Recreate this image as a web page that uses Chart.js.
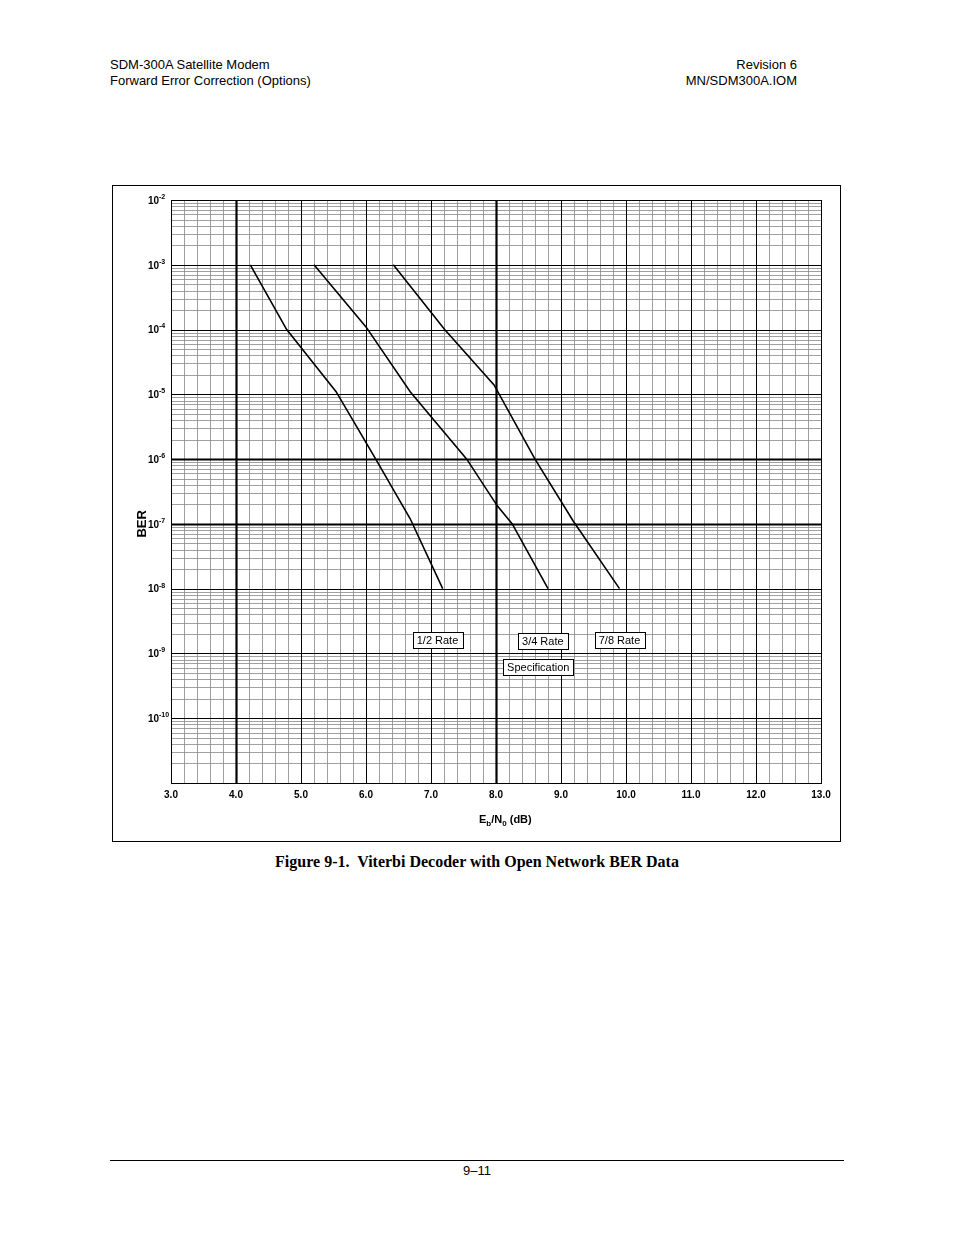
<!DOCTYPE html>
<html>
<head>
<meta charset="utf-8">
<script src="https://cdn.jsdelivr.net/npm/chart.js@4"></script>
<style>
  body { margin: 0; width: 954px; height: 1235px; position: relative; background: #fff; font-family: Arial, "Liberation Sans", sans-serif; }
  .hdr { position: absolute; font-size: 13px; line-height: 16px; color: #000; }
  #box { position: absolute; left: 112px; top: 185px; width: 729px; height: 657px; border: 1px solid #000; box-sizing: border-box; }
  #wrap { position: absolute; left: 112px; top: 185px; width: 729px; height: 657px; }
  .cap { position: absolute; top: 853px; left: 0; width: 954px; text-align: center; font-family: "Liberation Serif", "Times New Roman", serif; font-weight: bold; font-size: 16px; }
  .rule { position: absolute; left: 110px; width: 734px; top: 1160px; border-top: 1px solid #000; }
</style>
</head>
<body>
<div class="hdr" style="left:110px;top:57px">SDM-300A Satellite Modem<br>Forward Error Correction (Options)</div>
<div class="hdr" style="right:157px;top:57px;text-align:right">Revision 6<br>MN/SDM300A.IOM</div>
<div id="box"></div>
<div id="wrap"><canvas id="berChart"></canvas></div>
<div class="cap">Figure 9-1.&nbsp; Viterbi Decoder with Open Network BER Data</div>
<div class="rule"></div>
<div class="hdr" style="left:0;width:954px;text-align:center;top:1163px">9–11</div>
<script>
// Eb/N0 (dB) vs BER
const rateHalfX = [4.22, 4.78, 5.54, 6.15, 6.68, 7.18];
const rateHalfY = [1e-3, 1e-4, 1.1e-5, 1e-6, 1.2e-7, 1e-8];
const rate34X = [5.2, 6.0, 6.68, 7.55, 8.02, 8.25, 8.8];
const rate34Y = [1e-3, 1.1e-4, 1.1e-5, 1e-6, 1.9e-7, 1e-7, 1e-8];
const rate78X = [6.42, 7.21, 7.97, 8.6, 9.19, 9.9];
const rate78Y = [1e-3, 1e-4, 1.4e-5, 1e-6, 1.1e-7, 1e-8];
const xTicks = [3, 4, 5, 6, 7, 8, 9, 10, 11, 12, 13];
const yExponents = [-2, -3, -4, -5, -6, -7, -8, -9, -10];
const curveLabels = [
  { text: '1/2 Rate', x: 7.1, y: 1.6e-9 },
  { text: '3/4 Rate', x: 8.72, y: 1.55e-9 },
  { text: '7/8 Rate', x: 9.9, y: 1.6e-9 },
  { text: 'Specification', x: 8.65, y: 6.2e-10 }
];

const pts = (xs, ys) => xs.map((x, i) => ({ x: x, y: ys[i] }));
const line = (xs, ys) => ({ data: pts(xs, ys), borderColor: '#000', borderWidth: 1.6, pointRadius: 0, fill: false, tension: 0 });

// custom graph-paper grid, axis labels and curve tags
const paper = {
  id: 'paper',
  beforeDatasetsDraw(chart) {
    const { ctx, scales: { x, y }, chartArea: a } = chart;
    ctx.save();
    const vline = (v, w, c) => { const p = Math.round(x.getPixelForValue(v)) + 0.5; ctx.strokeStyle = c; ctx.lineWidth = w; ctx.beginPath(); ctx.moveTo(p, a.top); ctx.lineTo(p, a.bottom); ctx.stroke(); };
    const hline = (v, w, c) => { const p = Math.round(y.getPixelForValue(v)) + 0.5; ctx.strokeStyle = c; ctx.lineWidth = w; ctx.beginPath(); ctx.moveTo(a.left, p); ctx.lineTo(a.right, p); ctx.stroke(); };
    for (let i = 30; i <= 130; i += 2) if (i % 10) vline(i / 10, 0.8, '#888');
    for (let e = -11; e < -2; e++) for (let m = 2; m <= 9; m++) hline(m * Math.pow(10, e), 0.8, '#888');
    xTicks.forEach(t => vline(t, (t === 4 || t === 8) ? 2.2 : 1, '#000'));
    yExponents.forEach(e => hline(Math.pow(10, e), (e === -6 || e === -7) ? 2 : 1, '#000'));
    ctx.strokeStyle = '#000'; ctx.lineWidth = 1; ctx.strokeRect(a.left + 0.5, a.top + 0.5, a.width, a.height);
    ctx.restore();
  },
  afterDraw(chart) {
    const { ctx, scales: { x, y }, chartArea: a } = chart;
    ctx.save();
    ctx.fillStyle = '#000';
    ctx.font = 'bold 10px Arial, "Liberation Sans"';
    ctx.textAlign = 'center'; ctx.textBaseline = 'top';
    xTicks.forEach(t => ctx.fillText(t.toFixed(1), x.getPixelForValue(t), a.bottom + 7));
    yExponents.forEach(e => {
      const py = y.getPixelForValue(Math.pow(10, e));
      ctx.font = 'bold 10px Arial, "Liberation Sans"'; ctx.textAlign = 'right'; ctx.textBaseline = 'middle';
      ctx.fillText('10', a.left - 12, py + 1);
      ctx.font = 'bold 7px Arial, "Liberation Sans"'; ctx.textAlign = 'left';
      ctx.fillText(String(e), a.left - 12, py - 3);
    });
    // x title Eb/N0 (dB)
    ctx.textAlign = 'left'; ctx.textBaseline = 'alphabetic';
    let cx = x.getPixelForValue(8) - 17, by = a.bottom + 40;
    const seg = (s, f, dy) => { ctx.font = f; ctx.fillText(s, cx, by + dy); cx += ctx.measureText(s).width; };
    seg('E', 'bold 11px Arial', 0); seg('b', 'bold 8px Arial', 3); seg('/N', 'bold 11px Arial', 0); seg('0', 'bold 8px Arial', 3); seg(' (dB)', 'bold 11px Arial', 0);
    // y title
    ctx.save(); ctx.translate(a.left - 30, y.getPixelForValue(1e-7)); ctx.rotate(-Math.PI / 2);
    ctx.font = 'bold 13px Arial'; ctx.textAlign = 'center'; ctx.fillText('BER', 0, 5); ctx.restore();
    // curve tags
    ctx.font = '11px Arial, "Liberation Sans"'; ctx.textAlign = 'center'; ctx.textBaseline = 'middle';
    curveLabels.forEach(l => {
      const px = x.getPixelForValue(l.x), py = y.getPixelForValue(l.y);
      const w = ctx.measureText(l.text).width + 8;
      ctx.fillStyle = '#fff'; ctx.fillRect(px - w / 2, py - 8, w, 16);
      ctx.strokeStyle = '#000'; ctx.lineWidth = 1; ctx.strokeRect(Math.round(px - w / 2) + 0.5, Math.round(py - 8) + 0.5, Math.round(w), 16);
      ctx.fillStyle = '#000'; ctx.fillText(l.text, px, py + 1);
    });
    ctx.restore();
  }
};

new Chart(document.getElementById('berChart'), {
  type: 'line',
  data: { datasets: [line(rateHalfX, rateHalfY), line(rate34X, rate34Y), line(rate78X, rate78Y)] },
  options: {
    responsive: true, maintainAspectRatio: false, animation: false,
    layout: { padding: { left: 51, right: 20, top: 15, bottom: 51 } },
    plugins: { legend: { display: false }, tooltip: { enabled: false } },
    scales: {
      x: { type: 'linear', min: 3, max: 13, grid: { display: false }, border: { display: false }, ticks: { display: false } },
      y: { type: 'logarithmic', min: 1e-11, max: 1e-2, grid: { display: false }, border: { display: false }, ticks: { display: false } }
    }
  },
  plugins: [paper]
});
</script>
</body>
</html>
